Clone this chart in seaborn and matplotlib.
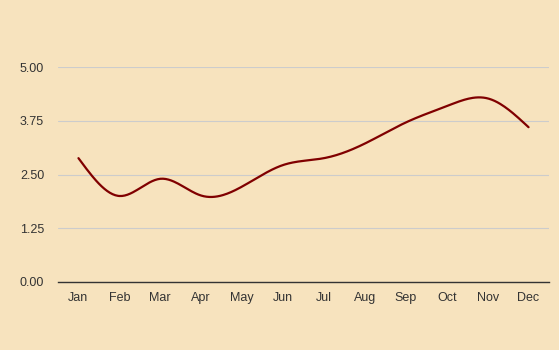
import numpy as np
import pandas as pd
import matplotlib
matplotlib.use("Agg")
import matplotlib.pyplot as plt
import seaborn as sns

months = ["Jan", "Feb", "Mar", "Apr", "May", "Jun", "Jul", "Aug", "Sep", "Oct", "Nov", "Dec"]
values = [2.88, 2.0, 2.40, 2.01, 2.22, 2.72, 2.88, 3.22, 3.71, 4.09, 4.27, 3.6]
yticks = [0.0, 1.25, 2.5, 3.75, 5.0]

def natural_spline(x, y, n=30):
    x = np.asarray(x, float); y = np.asarray(y, float)
    N = len(x)
    h = np.diff(x)
    A = np.zeros((N, N)); b = np.zeros(N)
    A[0, 0] = 1; A[-1, -1] = 1
    for i in range(1, N - 1):
        A[i, i - 1] = h[i - 1]
        A[i, i] = 2 * (h[i - 1] + h[i])
        A[i, i + 1] = h[i]
        b[i] = 6 * ((y[i + 1] - y[i]) / h[i] - (y[i] - y[i - 1]) / h[i - 1])
    M = np.linalg.solve(A, b)
    xs, ys = [], []
    for i in range(N - 1):
        t = np.linspace(x[i], x[i + 1], n, endpoint=(i == N - 2))
        a = x[i + 1] - t; c = t - x[i]
        s = (M[i] * a**3 + M[i + 1] * c**3) / (6 * h[i]) \
            + (y[i] / h[i] - M[i] * h[i] / 6) * a + (y[i + 1] / h[i] - M[i + 1] * h[i] / 6) * c
        xs.append(t); ys.append(s)
    return np.concatenate(xs), np.concatenate(ys)

bg = "#F7E3BE"
sns.set_theme(style="white")
plt.rcParams["font.family"] = ["Liberation Sans", "DejaVu Sans"]

fig = plt.figure(figsize=(5.59, 3.5), dpi=100, facecolor=bg)
ax = fig.add_axes([58 / 559, 1 - 282 / 350, (549 - 58) / 559, (282 - 67) / 350])
ax.set_facecolor(bg)

xi, yi = natural_spline(np.arange(len(months)), values)
df = pd.DataFrame({"x": xi, "y": yi})
sns.lineplot(data=df, x="x", y="y", ax=ax, color="#800000", linewidth=1.6, sort=False)

ax.set_xlim(-0.5, len(months) - 0.5)
ax.set_ylim(0, 5)
ax.set_xticks(range(len(months)))
ax.set_xticklabels(months)
ax.set_yticks(yticks)
ax.set_yticklabels([f"{v:.2f}" for v in yticks])
ax.set_xlabel("")
ax.set_ylabel("")
ax.tick_params(axis="both", length=0, labelsize=9, colors="#333333")
ax.tick_params(axis="x", pad=7.5)
ax.tick_params(axis="y", pad=10)
ax.yaxis.grid(True, color="#CCCCCC", linewidth=0.8)
ax.set_axisbelow(True)
for side in ["top", "left", "right"]:
    ax.spines[side].set_visible(False)
ax.spines["bottom"].set_color("#333333")
ax.spines["bottom"].set_linewidth(1.0)
ax.spines["bottom"].set_zorder(3)

fig.savefig("out.png", dpi=100, facecolor=bg)
